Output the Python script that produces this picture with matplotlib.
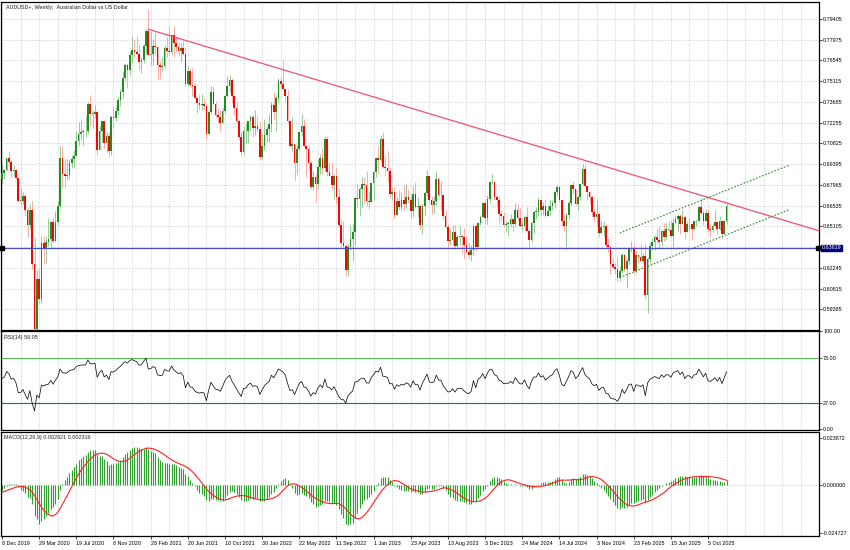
import numpy as np
import pandas as pd
import matplotlib
matplotlib.use('Agg')
import matplotlib.pyplot as plt

plt.rcParams['font.family'] = ['Liberation Sans', 'DejaVu Sans']

# weekly closes before the first drawn bar (Mar-Dec 2019), used only to warm up RSI/MACD
warmup_close = [0.7040, 0.7085, 0.7085, 0.7100, 0.7110, 0.7140, 0.7170, 0.7030, 0.7015, 0.7000,
                0.6880, 0.6910, 0.6935, 0.6975, 0.6875, 0.6920, 0.7020, 0.7005, 0.7025, 0.7035,
                0.6950, 0.6775, 0.6735, 0.6775, 0.6750, 0.6730, 0.6835, 0.6870, 0.6775, 0.6760,
                0.6755, 0.6815, 0.6855, 0.6815, 0.6905, 0.6860, 0.6805, 0.6780, 0.6765, 0.6835]

first_open = 0.6835

# weekly bars, 8 Dec 2019 ... 30 Nov 2025
close_2019 = [0.6880, 0.6900, 0.6980, 0.6955]
high_2019 = [0.6939, 0.6905, 0.6985, 0.7032]
low_2019 = [0.6800, 0.6840, 0.6895, 0.6930]

close_2020 = [0.6890, 0.6900, 0.6845, 0.6685, 0.6685, 0.6720, 0.6625, 0.6520, 0.6625, 0.6250,
              0.5800, 0.6150, 0.6010, 0.6395, 0.6360, 0.6405, 0.6420, 0.6540, 0.6410, 0.6540,
              0.6650, 0.6985, 0.6870, 0.6855, 0.6865, 0.6950, 0.6975, 0.6995, 0.7100, 0.7145,
              0.7160, 0.7165, 0.7170, 0.7355, 0.7285, 0.7285, 0.7300, 0.7035, 0.7165, 0.7235,
              0.7085, 0.7135, 0.7030, 0.7265, 0.7255, 0.7305, 0.7380, 0.7440, 0.7535, 0.7620,
              0.7590, 0.7695]
high_2020 = [0.6970, 0.6935, 0.6905, 0.6845, 0.6775, 0.6745, 0.6735, 0.6645, 0.6665, 0.6685,
             0.6440, 0.6210, 0.6215, 0.6445, 0.6445, 0.6445, 0.6570, 0.6545, 0.6570, 0.6615,
             0.6685, 0.7065, 0.7065, 0.6975, 0.6975, 0.6975, 0.7005, 0.7040, 0.7165, 0.7230,
             0.7245, 0.7185, 0.7275, 0.7365, 0.7415, 0.7315, 0.7345, 0.7315, 0.7210, 0.7245,
             0.7240, 0.7160, 0.7160, 0.7280, 0.7340, 0.7340, 0.7400, 0.7455, 0.7580, 0.7640,
             0.7630, 0.7720]
low_2020 = [0.6850, 0.6860, 0.6835, 0.6680, 0.6660, 0.6665, 0.6585, 0.6435, 0.6490, 0.6215,
            0.5510, 0.5660, 0.5980, 0.5985, 0.6250, 0.6255, 0.6375, 0.6370, 0.6400, 0.6410,
            0.6520, 0.6640, 0.6775, 0.6775, 0.6830, 0.6835, 0.6910, 0.6920, 0.6995, 0.7065,
            0.7110, 0.7075, 0.7130, 0.7150, 0.7200, 0.7190, 0.7260, 0.7005, 0.7040, 0.7090,
            0.7050, 0.7020, 0.6990, 0.7000, 0.7190, 0.7235, 0.7275, 0.7340, 0.7395, 0.7510,
            0.7465, 0.7555]

close_2021 = [0.7730, 0.7710, 0.7700, 0.7645, 0.7655, 0.7755, 0.7860, 0.7690, 0.7700, 0.7755,
              0.7745, 0.7620, 0.7610, 0.7615, 0.7740, 0.7720, 0.7715, 0.7830, 0.7775, 0.7745,
              0.7720, 0.7740, 0.7700, 0.7490, 0.7585, 0.7485, 0.7475, 0.7395, 0.7360, 0.7345,
              0.7355, 0.7340, 0.7150, 0.7300, 0.7440, 0.7355, 0.7275, 0.7265, 0.7225, 0.7305,
              0.7410, 0.7475, 0.7520, 0.7410, 0.7330, 0.7235, 0.7130, 0.7020, 0.7165, 0.7170,
              0.7235, 0.7265]
high_2021 = [0.7820, 0.7805, 0.7820, 0.7765, 0.7675, 0.7765, 0.7870, 0.8007, 0.7850, 0.7800,
             0.7850, 0.7755, 0.7650, 0.7680, 0.7760, 0.7815, 0.7890, 0.7840, 0.7890, 0.7815,
             0.7785, 0.7775, 0.7790, 0.7745, 0.7615, 0.7600, 0.7600, 0.7500, 0.7410, 0.7425,
             0.7425, 0.7395, 0.7345, 0.7315, 0.7475, 0.7480, 0.7375, 0.7320, 0.7310, 0.7325,
             0.7415, 0.7545, 0.7555, 0.7535, 0.7370, 0.7370, 0.7250, 0.7170, 0.7200, 0.7225,
             0.7240, 0.7275]
low_2021 = [0.7640, 0.7675, 0.7690, 0.7590, 0.7565, 0.7640, 0.7705, 0.7690, 0.7620, 0.7620,
            0.7700, 0.7530, 0.7530, 0.7580, 0.7600, 0.7680, 0.7695, 0.7695, 0.7675, 0.7710,
            0.7690, 0.7645, 0.7690, 0.7480, 0.7480, 0.7475, 0.7410, 0.7390, 0.7290, 0.7315,
            0.7315, 0.7315, 0.7105, 0.7150, 0.7285, 0.7350, 0.7265, 0.7220, 0.7170, 0.7225,
            0.7290, 0.7405, 0.7435, 0.7360, 0.7275, 0.7220, 0.7110, 0.6995, 0.7000, 0.7085,
            0.7085, 0.7170]

close_2022 = [0.7190, 0.7205, 0.7180, 0.6990, 0.7065, 0.7140, 0.7185, 0.7215, 0.7350, 0.7300,
              0.7395, 0.7510, 0.7490, 0.7460, 0.7410, 0.7240, 0.7065, 0.7080, 0.6945, 0.7045,
              0.7160, 0.7205, 0.7065, 0.7045, 0.6945, 0.6785, 0.6850, 0.6800, 0.6920, 0.6985,
              0.6910, 0.7110, 0.6885, 0.6860, 0.6795, 0.6860, 0.6710, 0.6520, 0.6395, 0.6375,
              0.6210, 0.6365, 0.6420, 0.6470, 0.6705, 0.6700, 0.6765, 0.6805, 0.6795, 0.6685,
              0.6680, 0.6810]
high_2022 = [0.7275, 0.7315, 0.7275, 0.7235, 0.7150, 0.7250, 0.7200, 0.7285, 0.7370, 0.7440,
             0.7415, 0.7535, 0.7540, 0.7660, 0.7460, 0.7455, 0.7215, 0.7265, 0.7080, 0.7075,
             0.7170, 0.7285, 0.7250, 0.7070, 0.7065, 0.6965, 0.6895, 0.6870, 0.6975, 0.7010,
             0.7050, 0.7135, 0.7135, 0.6955, 0.6955, 0.6875, 0.6915, 0.6765, 0.6560, 0.6545,
             0.6395, 0.6390, 0.6520, 0.6525, 0.6710, 0.6800, 0.6780, 0.6850, 0.6850, 0.6890,
             0.6750, 0.6810]
low_2022 = [0.7130, 0.7140, 0.7165, 0.6965, 0.6975, 0.7035, 0.7090, 0.7095, 0.7160, 0.7250,
            0.7165, 0.7370, 0.7455, 0.7460, 0.7375, 0.7225, 0.7055, 0.7030, 0.6830, 0.6875,
            0.7035, 0.7135, 0.7065, 0.6850, 0.6900, 0.6765, 0.6760, 0.6680, 0.6770, 0.6870,
            0.6870, 0.6890, 0.6860, 0.6855, 0.6770, 0.6700, 0.6670, 0.6505, 0.6365, 0.6370,
            0.6170, 0.6170, 0.6345, 0.6275, 0.6385, 0.6635, 0.6585, 0.6640, 0.6670, 0.6650,
            0.6630, 0.6685]

close_2023 = [0.6885, 0.6985, 0.6965, 0.7110, 0.6920, 0.6910, 0.6890, 0.6735, 0.6745, 0.6590,
              0.6685, 0.6645, 0.6690, 0.6665, 0.6710, 0.6690, 0.6615, 0.6735, 0.6645, 0.6650,
              0.6520, 0.6650, 0.6740, 0.6860, 0.6690, 0.6660, 0.6685, 0.6840, 0.6725, 0.6725,
              0.6585, 0.6505, 0.6410, 0.6415, 0.6470, 0.6375, 0.6435, 0.6445, 0.6435, 0.6380,
              0.6335, 0.6315, 0.6345, 0.6515, 0.6365, 0.6535, 0.6575, 0.6670, 0.6565, 0.6700,
              0.6815, 0.6815, 0.6710]
high_2023 = [0.6895, 0.6990, 0.7065, 0.7140, 0.7158, 0.6995, 0.7030, 0.6920, 0.6785, 0.6785,
             0.6715, 0.6760, 0.6745, 0.6795, 0.6805, 0.6765, 0.6720, 0.6790, 0.6815, 0.6715,
             0.6665, 0.6665, 0.6750, 0.6900, 0.6860, 0.6720, 0.6720, 0.6895, 0.6850, 0.6820,
             0.6735, 0.6625, 0.6525, 0.6490, 0.6520, 0.6520, 0.6450, 0.6510, 0.6450, 0.6500,
             0.6445, 0.6395, 0.6380, 0.6525, 0.6525, 0.6540, 0.6590, 0.6675, 0.6690, 0.6730,
             0.6825, 0.6870, 0.6820]
low_2023 = [0.6690, 0.6850, 0.6870, 0.6955, 0.6915, 0.6855, 0.6815, 0.6710, 0.6695, 0.6565,
            0.6590, 0.6620, 0.6620, 0.6620, 0.6640, 0.6670, 0.6565, 0.6575, 0.6640, 0.6575,
            0.6490, 0.6460, 0.6590, 0.6720, 0.6680, 0.6595, 0.6600, 0.6660, 0.6715, 0.6620,
            0.6560, 0.6500, 0.6365, 0.6380, 0.6385, 0.6355, 0.6365, 0.6385, 0.6330, 0.6285,
            0.6325, 0.6285, 0.6270, 0.6315, 0.6340, 0.6365, 0.6520, 0.6575, 0.6525, 0.6525,
            0.6670, 0.6800, 0.6690]

close_2024 = [0.6690, 0.6595, 0.6580, 0.6520, 0.6530, 0.6530, 0.6560, 0.6525, 0.6625, 0.6565,
              0.6515, 0.6515, 0.6575, 0.6480, 0.6415, 0.6535, 0.6610, 0.6610, 0.6690, 0.6625,
              0.6650, 0.6580, 0.6615, 0.6650, 0.6670, 0.6745, 0.6780, 0.6690, 0.6545, 0.6515,
              0.6590, 0.6670, 0.6795, 0.6765, 0.6665, 0.6710, 0.6805, 0.6905, 0.6790, 0.6745,
              0.6710, 0.6610, 0.6575, 0.6595, 0.6465, 0.6505, 0.6515, 0.6380, 0.6365, 0.6250,
              0.6230, 0.6215]
high_2024 = [0.6730, 0.6710, 0.6620, 0.6610, 0.6545, 0.6550, 0.6595, 0.6565, 0.6670, 0.6665,
             0.6635, 0.6555, 0.6590, 0.6645, 0.6490, 0.6545, 0.6615, 0.6645, 0.6715, 0.6690,
             0.6680, 0.6700, 0.6660, 0.6690, 0.6690, 0.6755, 0.6798, 0.6790, 0.6695, 0.6595,
             0.6600, 0.6685, 0.6800, 0.6825, 0.6770, 0.6720, 0.6810, 0.6942, 0.6935, 0.6790,
             0.6755, 0.6720, 0.6630, 0.6690, 0.6600, 0.6550, 0.6550, 0.6530, 0.6430, 0.6375,
             0.6290, 0.6260]
low_2024 = [0.6650, 0.6525, 0.6550, 0.6505, 0.6470, 0.6445, 0.6505, 0.6475, 0.6505, 0.6545,
            0.6505, 0.6480, 0.6480, 0.6475, 0.6360, 0.6405, 0.6465, 0.6560, 0.6580, 0.6590,
            0.6590, 0.6575, 0.6580, 0.6590, 0.6620, 0.6640, 0.6720, 0.6680, 0.6510, 0.6480,
            0.6350, 0.6560, 0.6660, 0.6735, 0.6660, 0.6620, 0.6690, 0.6795, 0.6780, 0.6695,
            0.6665, 0.6580, 0.6540, 0.6515, 0.6440, 0.6465, 0.6435, 0.6370, 0.6335, 0.6180,
            0.6220, 0.6180]

close_2025 = [0.6155, 0.6200, 0.6310, 0.6215, 0.6275, 0.6355, 0.6360, 0.6205, 0.6315, 0.6300,
              0.6275, 0.6305, 0.6040, 0.6285, 0.6375, 0.6405, 0.6440, 0.6415, 0.6400, 0.6480,
              0.6435, 0.6490, 0.6485, 0.6445, 0.6535, 0.6560, 0.6580, 0.6525, 0.6575, 0.6475,
              0.6525, 0.6525, 0.6490, 0.6545, 0.6550, 0.6645, 0.6600, 0.6545, 0.6605, 0.6495,
              0.6485, 0.6510, 0.6540, 0.6490, 0.6545, 0.6455, 0.6545, 0.6650]
high_2025 = [0.6300, 0.6235, 0.6330, 0.6330, 0.6285, 0.6370, 0.6408, 0.6390, 0.6340, 0.6320,
             0.6390, 0.6330, 0.6390, 0.6300, 0.6400, 0.6430, 0.6450, 0.6495, 0.6515, 0.6495,
             0.6535, 0.6535, 0.6550, 0.6545, 0.6565, 0.6590, 0.6595, 0.6595, 0.6625, 0.6585,
             0.6540, 0.6570, 0.6525, 0.6545, 0.6560, 0.6660, 0.6707, 0.6625, 0.6630, 0.6630,
             0.6530, 0.6535, 0.6620, 0.6540, 0.6580, 0.6550, 0.6550, 0.6665]
low_2025 = [0.6130, 0.6135, 0.6190, 0.6195, 0.6087, 0.6250, 0.6335, 0.6185, 0.6190, 0.6255,
            0.6270, 0.6260, 0.6010, 0.5915, 0.6255, 0.6345, 0.6345, 0.6395, 0.6355, 0.6375,
            0.6410, 0.6420, 0.6470, 0.6435, 0.6370, 0.6535, 0.6480, 0.6455, 0.6525, 0.6420,
            0.6475, 0.6485, 0.6415, 0.6485, 0.6510, 0.6545, 0.6595, 0.6520, 0.6555, 0.6470,
            0.6440, 0.6475, 0.6520, 0.6460, 0.6485, 0.6420, 0.6455, 0.6530]

# drawn objects (bar index, price)
trend_idx = [63, 250]
trend_price = [0.7870, 0.6970]
channel_idx = [266, 339]
channel_upper = [0.6465, 0.6933]
channel_lower = [0.6158, 0.6626]
support_level = 0.63619

price_ticks = [0.79405, 0.77975, 0.76545, 0.75115, 0.73685, 0.72255, 0.70825, 0.69395,
               0.67965, 0.66535, 0.65105, 0.62245, 0.60815, 0.59385]
date_labels = ['8 Dec 2019', '29 Mar 2020', '19 Jul 2020', '8 Nov 2020', '28 Feb 2021',
               '20 Jun 2021', '10 Oct 2021', '30 Jan 2022', '22 May 2022', '11 Sep 2022',
               '1 Jan 2023', '23 Apr 2023', '13 Aug 2023', '3 Dec 2023', '24 Mar 2024',
               '14 Jul 2024', '3 Nov 2024', '23 Feb 2025', '15 Jun 2025', '5 Oct 2025']

close = np.array(close_2019 + close_2020 + close_2021 + close_2022 + close_2023 + close_2024 + close_2025)
high = np.array(high_2019 + high_2020 + high_2021 + high_2022 + high_2023 + high_2024 + high_2025)
low = np.array(low_2019 + low_2020 + low_2021 + low_2022 + low_2023 + low_2024 + low_2025)
assert len(close) == len(high) == len(low)
opn = np.concatenate([[first_open], close[:-1]])
high = np.maximum(high, np.maximum(opn, close))
low = np.minimum(low, np.minimum(opn, close))
x = np.arange(len(close))

# indicators
all_close = np.array(warmup_close + list(close))
d = np.diff(all_close)
gain = np.clip(d, 0, None)
loss = np.clip(-d, 0, None)
ag, al = gain[:14].mean(), loss[:14].mean()
rsi_all = np.full(len(all_close), np.nan)
for k in range(14, len(d)):
    ag = (ag * 13 + gain[k]) / 14
    al = (al * 13 + loss[k]) / 14
    rsi_all[k + 1] = 100 - 100 / (1 + ag / al)
rsi = rsi_all[len(warmup_close):]

def ema(v, n):
    a = 2.0 / (n + 1)
    out = np.empty_like(v)
    out[0] = v[0]
    for k in range(1, len(v)):
        out[k] = a * v[k] + (1 - a) * out[k - 1]
    return out

macd_all = ema(all_close, 12) - ema(all_close, 26)
signal_all = pd.Series(macd_all).rolling(9).mean().to_numpy()
macd = macd_all[len(warmup_close):]
signal = signal_all[len(warmup_close):]

# layout (pixel based, 850x550)
W, H = 850.0, 550.0
fig = plt.figure(figsize=(8.5, 5.5), dpi=100)
fig.patch.set_facecolor('white')
ax = fig.add_axes([1 / W, 1 - 330 / H, 818 / W, 328 / H])
ax_rsi = fig.add_axes([1 / W, 1 - 430 / H, 818 / W, 99 / H])
ax_macd = fig.add_axes([1 / W, 1 - 536 / H, 818 / W, 104 / H])

px_week = 2.3224
xlim = ((1 - 2) / px_week, (819 - 2) / px_week)
fs = 3.9
grid_kw = dict(color='#c8c8c8', lw=0.5, ls=(0, (2, 2)), zorder=0)

for a in (ax, ax_rsi, ax_macd):
    a.set_xlim(*xlim)
    for s in a.spines.values():
        s.set_linewidth(0.9)
        s.set_color('black')
    for gx in range(0, 352, 8):
        a.axvline(gx, **grid_kw)
    a.yaxis.tick_right()
    a.tick_params(axis='y', labelsize=fs, length=2, width=0.5, pad=1)
    a.set_xticks([])

# main price panel
ax.set_ylim(0.57958, 0.80577)
for p in price_ticks + [0.63675]:
    ax.axhline(p, **grid_kw)
ax.set_yticks(price_ticks)
ax.set_yticklabels(['%.5f' % p for p in price_ticks])

up = close >= opn
body_col = np.where(up, '#1f8f1f', '#ff0000')
wick_col = np.where(up, '#86c486', '#ff9c9c')
ax.vlines(x, low, high, colors=wick_col, lw=0.6, zorder=2)
body_h = np.maximum(np.abs(close - opn), 0.0004)
ax.bar(x, body_h, bottom=np.minimum(opn, close), width=0.72, color=body_col, lw=0, zorder=3)

slope = (trend_price[1] - trend_price[0]) / (trend_idx[1] - trend_idx[0])
tx = np.array([trend_idx[0], xlim[1]])
ax.plot(tx, trend_price[0] + slope * (tx - trend_idx[0]), color='#f0506e', lw=0.9, zorder=4)
ax.plot(channel_idx, channel_upper, color='#2e8b2e', lw=0.8, ls=(0, (1.5, 1.5)), zorder=4)
ax.plot(channel_idx, channel_lower, color='#2e8b2e', lw=0.8, ls=(0, (1.5, 1.5)), zorder=4)

ax.axhline(support_level, color='#4a4ac4', lw=0.9, zorder=4)
ax.plot([xlim[0] + 0.5, xlim[1] - 0.3], [support_level, support_level], 's', color='black',
        ms=2.2, clip_on=False, zorder=5)
ax.text(1.003, support_level, '%.5f' % support_level, transform=ax.get_yaxis_transform(),
        ha='left', va='center', fontsize=fs, color='white',
        bbox=dict(boxstyle='square,pad=0.15', fc='#00007f', ec='#00007f'))
ax.text(5 / 818, 1 - 5 / 328, 'AUDUSD+, Weekly:  Australian Dollar vs US Dollar',
        transform=ax.transAxes, ha='left', va='center', fontsize=fs, color='#202020')

# RSI panel
ax_rsi.set_ylim(-0.7, 100)
ax_rsi.axhline(73, color='#5cb85c', lw=0.8, zorder=1)
ax_rsi.axhline(27, color='#108a10', lw=0.8, zorder=1)
ax_rsi.plot(x, rsi, color='#101010', lw=0.55, zorder=3)
ax_rsi.set_yticks([100, 73, 27, 0])
ax_rsi.set_yticklabels(['100.00', '73.00', '27.00', '0.00'])
ax_rsi.text(3 / 818, 1 - 6 / 99, 'RSI(14) 58.05', transform=ax_rsi.transAxes,
            ha='left', va='center', fontsize=fs, color='#202020')

# MACD panel
ax_macd.set_ylim(-0.02610, 0.02677)
ax_macd.axhline(0, **grid_kw)
ax_macd.vlines(x, 0, macd, colors='#2ea02e', lw=0.8, zorder=2)
ax_macd.plot(x, signal, color='#ff2020', lw=0.8, zorder=3)
ax_macd.set_yticks([0.023872, 0.0, -0.024727])
ax_macd.set_yticklabels(['0.023872', '0.000000', '-0.024727'])
ax_macd.text(3 / 818, 1 - 6 / 104, 'MACD(12,26,9) 0.002921 0.002316', transform=ax_macd.transAxes,
             ha='left', va='center', fontsize=fs, color='#202020')

ax_macd.set_xticks(np.arange(len(date_labels)) * 16)
ax_macd.set_xticklabels(date_labels)
ax_macd.tick_params(axis='x', labelsize=fs, length=2, width=0.5, pad=1.5)
for lab in ax_macd.get_xticklabels():
    lab.set_ha('left')

fig.savefig('out.png', dpi=100, facecolor='white')
